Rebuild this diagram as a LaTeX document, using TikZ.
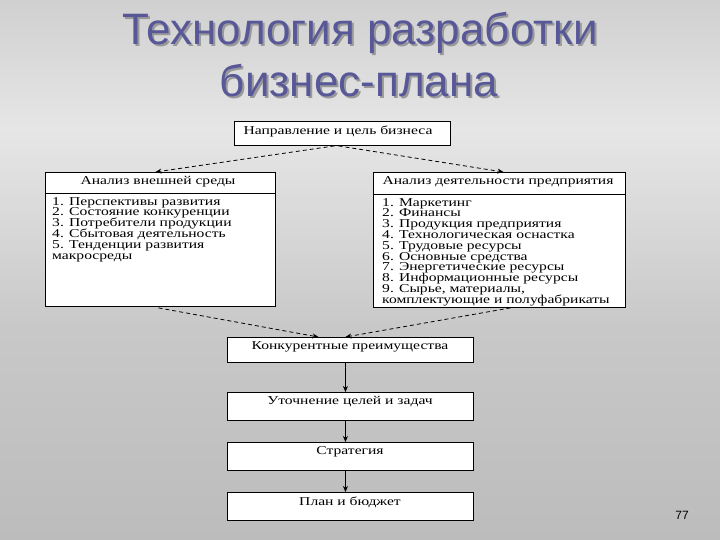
\documentclass[tikz,border=0pt]{standalone}
\usepackage{fontspec}
\setmainfont{Liberation Serif}
\newfontfamily\boxfont[FakeStretch=1.3]{Liberation Serif}
\newfontfamily\titlefont{Liberation Sans}
\newcommand\mylistfont{\boxfont\fontsize{12}{10.8}\selectfont\setlength{\lineskiplimit}{-100pt}\setlength{\lineskip}{0pt}}
\newcommand\shadowtitle[1]{\makebox[0pt][l]{\hspace{2pt}\raisebox{-2pt}[0pt][0pt]{\color{black!40}#1}}#1}
\usetikzlibrary{calc,arrows.meta}
\definecolor{titleblue}{RGB}{88,88,152}
\definecolor{bgtop}{RGB}{208,208,208}
\definecolor{bgmid}{RGB}{230,230,230}
\definecolor{bglow}{RGB}{200,200,200}
\definecolor{bgbot}{RGB}{188,188,188}
\begin{document}
\begin{tikzpicture}[x=1pt,y=-1pt,
  box/.style={draw=black, line width=0.9pt, fill=white, anchor=north west, inner sep=0pt},
  boxtext/.style={font=\boxfont\fontsize{12}{10.8}\selectfont, inner sep=0pt},
  listtext/.style={font=\mylistfont, inner sep=0pt, anchor=north west, align=left},
  dasharrow/.style={dashed, dash pattern=on 4pt off 3pt, line width=0.8pt, -{Stealth[length=6pt,width=5pt]}},
  solidarrow/.style={line width=0.8pt, -{Stealth[length=6pt,width=5pt]}},
  titletext/.style={font=\titlefont\fontsize{44}{44}\selectfont, text=titleblue, anchor=base, inner sep=0pt}
]
\useasboundingbox (0,0) rectangle (720,540);
\shade[top color=bgtop, bottom color=bgmid] (0,0) rectangle (720,130);
\shade[top color=bgmid, bottom color=bglow] (0,130) rectangle (720,330);
\shade[top color=bglow, bottom color=bgbot] (0,330) rectangle (720,540);

% title
\node[titletext] (t1) at (360,45) {\shadowtitle{Технология разработки}};
\node[titletext] (t2) at (359,97) {\shadowtitle{бизнес-плана}};

% top box
\node[box, minimum width=216pt, minimum height=24pt] (T) at (234,121) {};
\node[boxtext] (Tt) at (338,131) {Направление и цель бизнеса};

% left box
\node[box, minimum width=230pt, minimum height=134pt] (L) at (45,172) {};
\node[boxtext] (Lh) at (158,182) {Анализ внешней среды};
\draw[line width=0.9pt] (L.west |- 0,193) -- (L.east |- 0,193);
\node[listtext] (Ll) at (52,197) {1. Перспективы развития\\2. Состояние конкуренции\\3. Потребители продукции\\4. Сбытовая деятельность\\5. Тенденции развития\\макросреды};

% right box
\node[box, minimum width=252pt, minimum height=135pt] (R) at (373,172) {};
\node[boxtext] (Rh) at (498,182) {Анализ деятельности предприятия};
\draw[line width=0.9pt] (R.west |- 0,194) -- (R.east |- 0,194);
\node[listtext] (Rl) at (382,198) {1. Маркетинг\\2. Финансы\\3. Продукция предприятия\\4. Технологическая оснастка\\5. Трудовые ресурсы\\6. Основные средства\\7. Энергетические ресурсы\\8. Информационные ресурсы\\9. Сырье, материалы,\\комплектующие и полуфабрикаты};

% bottom chain
\node[box, minimum width=246pt, minimum height=25pt] (B1) at (227,337) {};
\node[boxtext] (B1t) at (350,347) {Конкурентные преимущества};
\node[box, minimum width=246pt, minimum height=28pt] (B2) at (227,392) {};
\node[boxtext] (B2t) at (350,402) {Уточнение целей и задач};
\node[box, minimum width=246pt, minimum height=28pt] (B3) at (227,442) {};
\node[boxtext] (B3t) at (350,452) {Стратегия};
\node[box, minimum width=246pt, minimum height=28pt] (B4) at (227,492) {};
\node[boxtext] (B4t) at (350,502) {План и бюджет};

% connectors
\draw[dasharrow] ($(T.south)+(-8,0)$) -- ($(L.north)+(-5,0)$);
\draw[dasharrow] ($(T.south)+(-4,0)$) -- ($(R.north)+(4,0)$);
\draw[dasharrow] ($(L.south)+(-2,1)$) -- ($(B1.north)+(-32,0)$);
\draw[dasharrow] ($(R.south)+(11,0)$) -- ($(B1.north)+(-5,0)$);
\draw[solidarrow] ($(B1.south)+(-5,0)$) -- ($(B2.north)+(-5,0)$);
\draw[solidarrow] ($(B2.south)+(-5,0)$) -- ($(B3.north)+(-5,0)$);
\draw[solidarrow] ($(B3.south)+(-5,0)$) -- ($(B4.north)+(-5,0)$);

\node[font=\titlefont\fontsize{12}{12}\selectfont, inner sep=0pt] (pg) at (682,515) {77};
\end{tikzpicture}
\end{document}
